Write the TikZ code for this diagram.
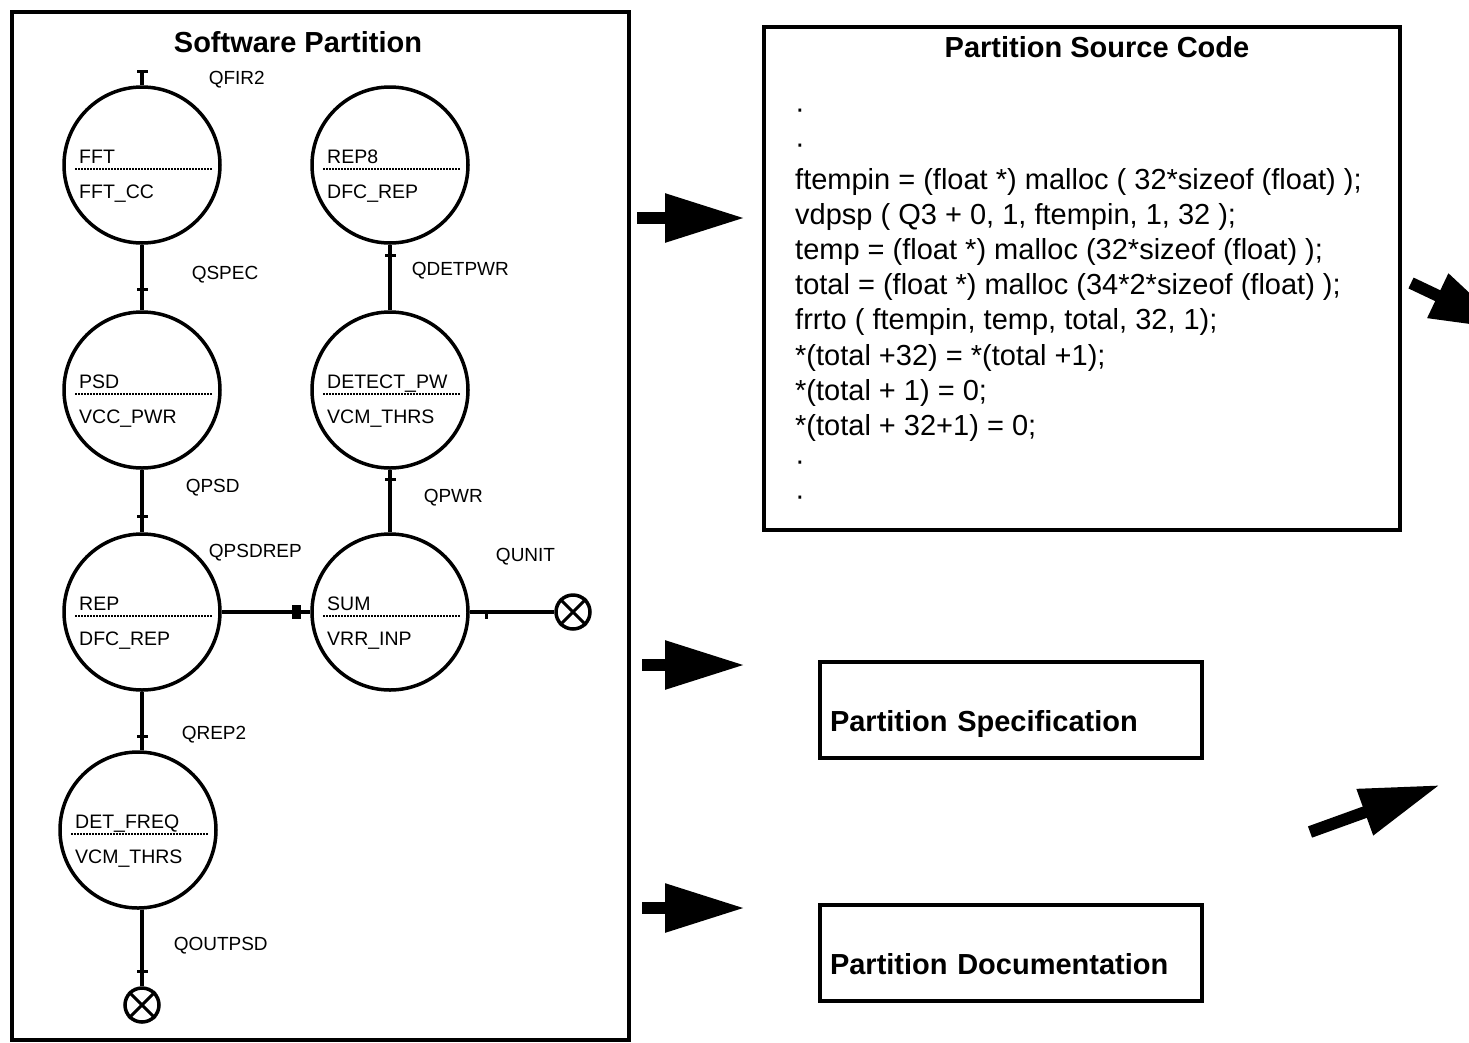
\documentclass[tikz,border=0pt]{standalone}
\usepackage{fontspec}
\setmainfont{Liberation Sans}
\usepackage{tikz}
\usetikzlibrary{positioning, arrows.meta}

\tikzset{
  proc/.style={circle, draw, line width=3.5pt, minimum size=156pt, inner sep=0pt},
  sink/.style={circle, draw, line width=3.5pt, minimum size=34pt, inner sep=0pt},
  chan/.style={line width=3.5pt},
  tickmark/.style={fill, inner sep=0pt, minimum width=3pt, minimum height=11pt, sloped},
  qlbl/.style={font=\fontsize{19}{19}\selectfont, inner sep=0pt, anchor=west},
  plbl/.style={font=\fontsize{19.5}{19.5}\selectfont, inner sep=0pt, anchor=base west},
  divider/.style={line width=2.5pt, dash pattern=on 1.5pt off 1.5pt},
  boxline/.style={draw, line width=4pt, inner sep=0pt},
  heading/.style={font=\bfseries\fontsize{29}{29}\selectfont, inner sep=0pt, anchor=base},
  codeline/.style={font=\fontsize{29}{29}\selectfont, inner sep=0pt, anchor=base west},
  bigarrow/.style={line width=12pt, -{Triangle[length=80pt, width=46pt]}},
  docbox/.style={boxline, text width=362pt, align=left, inner xsep=10pt, inner ysep=27pt,
    text height=42pt, text depth=0pt, font=\bfseries\fontsize{29}{29}\selectfont},
}

\begin{document}
\begin{tikzpicture}[x=1pt, y=-1pt, on grid]
  \useasboundingbox (0,0) rectangle (1469,1042);

  % software partition
  \node[boxline, anchor=north west, minimum width=617pt, minimum height=1028pt] (part) at (10,10) {};
  \node[heading] (swtitle) at (298,52) {Software Partition};

  \node[proc] (fft) at (142,165) {};
  \node[proc] (rep8) [right=248pt of fft] {};
  \node[proc] (psd) [below=225pt of fft] {};
  \node[proc] (detpw) [right=248pt of psd] {};
  \node[proc] (rep) [below=222pt of psd] {};
  \node[proc] (sum) [right=248pt of rep] {};
  \node[proc] (detfreq) [below=218pt of rep, xshift=-4pt] {};
  \node[sink] (unit) [right=183pt of sum] {};
  \node[sink] (outpsd) [below=175pt of detfreq, xshift=4pt] {};

  \foreach \p/\fn/\vn in {fft/FFT/FFT\_CC, rep8/REP8/DFC\_REP, psd/PSD/VCC\_PWR,
      detpw/DETECT\_PW/VCM\_THRS, rep/REP/DFC\_REP, sum/SUM/VRR\_INP,
      detfreq/DET\_FREQ/VCM\_THRS} {
    \node[plbl] (\p-fn) at ([shift={(-63,-2)}]\p.center) {\fn};
    \node[plbl] (\p-vn) at ([shift={(-63,33)}]\p.center) {\vn};
    \draw[divider] ([shift={(-67,4)}]\p.center) -- ([shift={(71,4)}]\p.center);
  }

  % queues
  \coordinate[above=14pt of fft.north] (fir);
  \draw[chan] (fft) -- node[tickmark, pos=1] (t0) {}
    node[qlbl, pos=.4, xshift=65pt] (qfir) {QFIR2} (fir);
  \draw[chan] (fft) -- node[tickmark, pos=.68] (t1) {}
    node[qlbl, pos=.46, xshift=48pt] (qspec) {QSPEC} (psd);
  \draw[chan] (psd) -- node[tickmark, pos=.74] (t2) {}
    node[qlbl, pos=.28, xshift=42pt] (qpsd) {QPSD} (rep);
  \draw[chan] (rep) -- node[tickmark, pos=.76] (t3) {}
    node[qlbl, pos=.73, xshift=38pt] (qrep) {QREP2} (rep |- detfreq.north);
  \draw[chan] (outpsd |- detfreq.south) -- node[tickmark, pos=.81] (t4) {}
    node[qlbl, pos=.47, xshift=30pt] (qout) {QOUTPSD} (outpsd);
  \draw[chan] (rep) -- node[fill, inner sep=0pt, minimum width=9pt, minimum height=14pt, pos=.85] (t5) {}
    node[qlbl, anchor=center, pos=.38, yshift=59pt] (qpsdrep) {QPSDREP} (sum);
  \draw[chan] (sum) -- node[tickmark, pos=.85] (t6) {}
    node[qlbl, pos=.56, xshift=32pt] (qpwr) {QPWR} (detpw);
  \draw[chan] (detpw) -- node[tickmark, pos=.83] (t7) {}
    node[qlbl, pos=.61, xshift=20pt] (qdet) {QDETPWR} (rep8);
  \draw[chan] (sum) -- node[fill, inner sep=0pt, minimum width=3pt, minimum height=5pt, pos=.2, yshift=-4pt] (t8) {}
    node[qlbl, anchor=center, pos=.66, yshift=55pt] (qunit) {QUNIT} (unit);
  \draw[line width=3pt] (unit.45) -- (unit.225) (unit.135) -- (unit.315);
  \draw[line width=3pt] (outpsd.45) -- (outpsd.225) (outpsd.135) -- (outpsd.315);

  % generated outputs
  \node[boxline, anchor=north west, minimum width=636pt, minimum height=503pt] (src) at (762,25) {};
  \node[heading] (srctitle) at (1097,57) {Partition Source Code};
  \foreach \codeln [count=\i from 0] in {{·}, {·},
      {ftempin = (float *) malloc ( 32*sizeof (float) );},
      {vdpsp ( Q3 + 0, 1, ftempin, 1, 32 );},
      {temp = (float *) malloc (32*sizeof (float) );},
      {total = (float *) malloc (34*2*sizeof (float) );},
      {frrto ( ftempin, temp, total, 32, 1);},
      {*(total +32) = *(total +1);},
      {*(total + 1) = 0;},
      {*(total + 32+1) = 0;},
      {·}, {·}}
    \node[codeline] (code\i) at (795,118.6+35.2*\i) {\codeln};

  \node[docbox, anchor=north west] (spec) at (818,660) {Partition Specification};
  \node[docbox, anchor=north west] (doc) at (818,903) {Partition Documentation};

  \coordinate (a1) at (637,218); \coordinate (b1) at (745,218);
  \coordinate (a2) at (642,665); \coordinate (b2) at (745,665);
  \coordinate (a3) at (642,908); \coordinate (b3) at (745,908);
  \draw[bigarrow] (a1) -- (b1);
  \draw[bigarrow] (a2) -- (b2);
  \draw[bigarrow] (a3) -- (b3);

  \coordinate (c1) at (1411,283); \coordinate (d1) at (1510,330);
  \coordinate (c2) at (1310,832); \coordinate (d2) at (1440,785);
  \draw[bigarrow] (c1) -- (d1);
  \draw[bigarrow] (c2) -- (d2);
\end{tikzpicture}
\end{document}
